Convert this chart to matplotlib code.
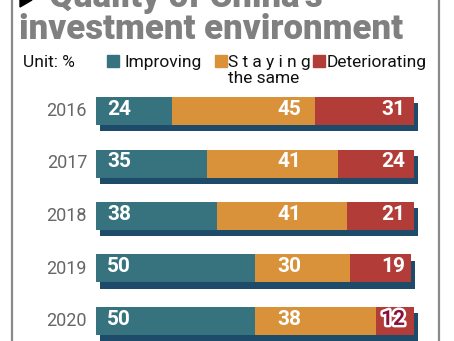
import matplotlib
matplotlib.use("Agg")
import matplotlib.pyplot as plt
import matplotlib.patheffects as pe
from matplotlib.patches import Polygon, Rectangle
from matplotlib.transforms import ScaledTranslation
from matplotlib.lines import Line2D

years = ["2016", "2017", "2018", "2019", "2020"]
improving = [24, 35, 38, 50, 50]
staying = [45, 41, 41, 30, 38]
deteriorating = [31, 24, 21, 19, 12]
series_names = ["Improving", "S t a y i n g\nthe same", "Deteriorating"]

TEAL = "#36737f"
ORANGE = "#d9913a"
RED = "#b23c38"
SHADOW = "#1f4b6b"

W, H, DPI = 454, 341, 100
plt.rcParams["font.family"] = ["Roboto", "DejaVu Sans"]

fig = plt.figure(figsize=(W / DPI, H / DPI), dpi=DPI)
fig.patch.set_facecolor("white")


def fx(x):
    return x / W


def fy(y):
    return 1 - y / H


# frame lines on the sides
for x in (12, 439):
    fig.add_artist(Line2D([fx(x), fx(x)], [0, 1], color="#8a8a8a", lw=1.6,
                          transform=fig.transFigure))

# heading, first line sits mostly above the top edge
fig.add_artist(Polygon([[fx(20), fy(-7)], [fx(32), fy(0)], [fx(20), fy(7)]],
                       closed=True, color="black", transform=fig.transFigure))
fig.text(fx(49), fy(7), "Quality of China's", fontsize=25, fontweight="heavy",
         color="#808080", va="baseline", ha="left")
fig.text(fx(19), fy(39), "investment environment", fontsize=25,
         fontweight="heavy", color="#808080", va="baseline", ha="left")

# legend
fig.text(fx(23), fy(67), "Unit: %", fontsize=12.5, color="#111111",
         va="baseline", ha="left")
legend_x = [(107, 124), (215, 228), (313, 327)]
for (sx, tx), name, col in zip(legend_x, series_names, [TEAL, ORANGE, RED]):
    fig.add_artist(Rectangle((fx(sx), fy(67)), 12 / W, 12 / H, color=col,
                             transform=fig.transFigure))
    lines = name.split("\n")
    fig.text(fx(tx), fy(67), lines[0], fontsize=12.5, color="#111111",
             va="baseline", ha="left")
    if len(lines) > 1:
        fig.text(fx(tx), fy(83), lines[1], fontsize=12.5, color="#111111",
                 va="baseline", ha="left")

# bars
ax = fig.add_axes([fx(96), 0, 318 / W, fy(85)])
ax.set_xlim(0, 100)
row_px = 52.5
ax.set_ylim((341 - 111) / row_px, -26 / row_px)
ax.axis("off")

pos = list(range(len(years)))
bh = 28 / row_px
totals = [a + b + c for a, b, c in zip(improving, staying, deteriorating)]
shift = ax.transData + ScaledTranslation(4 / DPI, -6 / DPI, fig.dpi_scale_trans)
ax.barh(pos, totals, height=bh, color=SHADOW, transform=shift, clip_on=False)

left2 = improving
left3 = [a + b for a, b in zip(improving, staying)]
ax.barh(pos, improving, height=bh, color=TEAL, clip_on=False)
ax.barh(pos, staying, left=left2, height=bh, color=ORANGE, clip_on=False)
ax.barh(pos, deteriorating, left=left3, height=bh, color=RED, clip_on=False)

for i in pos:
    ax.text(-2.8, i, years[i], fontsize=13, color="#666666", ha="right",
            va="center")
    ax.text(3.5, i - 0.03, str(improving[i]), fontsize=15, fontweight="bold",
            color="white", ha="left", va="center")
    ax.text(60.7, i - 0.03, str(staying[i]), fontsize=15, fontweight="bold",
            color="white", ha="center", va="center")
    if deteriorating[i] < 15:
        ax.text(97.2, i - 0.03, str(deteriorating[i]), fontsize=15,
                fontweight="bold", color="#8b1038", ha="right", va="center",
                path_effects=[pe.withStroke(linewidth=3.5, foreground="white")])
    else:
        ax.text(97.2, i - 0.03, str(deteriorating[i]), fontsize=15,
                fontweight="bold", color="white", ha="right", va="center")

fig.savefig("out.png", dpi=DPI)
